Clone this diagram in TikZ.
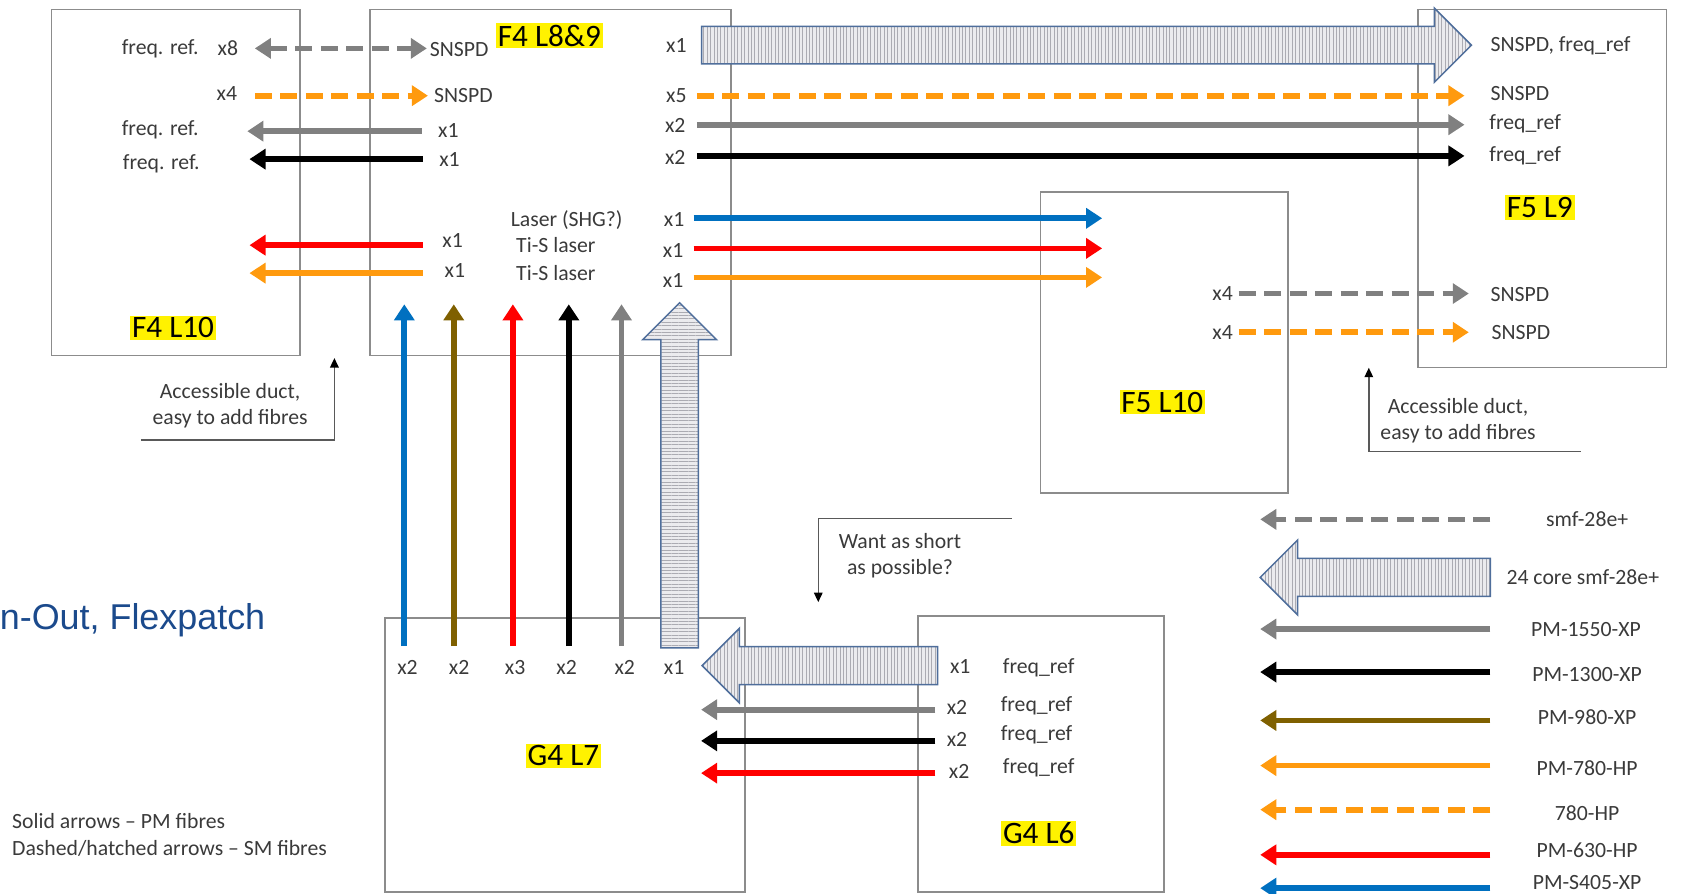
\documentclass[tikz,border=0pt]{standalone}
\usepackage{fontspec}
\setmainfont{Carlito}
\newfontfamily\arialfont{Liberation Sans}
\usepackage{tikz}
\usetikzlibrary{arrows.meta,shapes.arrows,patterns.meta}
\definecolor{boxgray}{HTML}{8C8C8C}
\definecolor{txt}{HTML}{3A3A3A}
\definecolor{fgray}{HTML}{808080}
\definecolor{fred}{HTML}{FF0000}
\definecolor{fblue}{HTML}{0070C0}
\definecolor{fbrown}{HTML}{7F6000}
\definecolor{forange}{HTML}{FF9A0E}
\definecolor{edgeblue}{HTML}{4F6E9B}
\definecolor{hatchbg}{HTML}{EBEBEE}
\definecolor{hatchln}{HTML}{ABABB2}
\definecolor{titleblue}{HTML}{1B4A8C}

\begin{document}
\begin{tikzpicture}[x=0.02cm, y=-0.02cm, every node/.style={font=\fontsize{11.5}{13.6}\selectfont, text=txt}]
\tikzstyle{room}=[draw=boxgray,line width=0.9pt,anchor=north west,inner sep=0]
\tikzstyle{tag}=[fill=yellow,text=black,inner sep=1pt,font=\fontsize{16.5}{18}\selectfont]
\tikzstyle{pm}=[line width=3pt,-{Triangle[length=8.5pt,width=10.5pt]}]
\tikzstyle{smf}=[pm,dash pattern=on 9pt off 4.5pt]
\tikzstyle{twoway}=[{Triangle[length=8.5pt,width=10.5pt]}-{Triangle[length=8.5pt,width=10.5pt]}]
\tikzstyle{core}=[single arrow,anchor=tip,draw=edgeblue,line width=0.8pt,inner sep=0.34cm,minimum width=1.36cm,single arrow head extend=0.34cm,preaction={fill=hatchbg},pattern={Lines[angle=90,distance=1.8pt,line width=0.45pt]},pattern color=hatchln]
\tikzstyle{note}=[draw=black!65,line width=0.8pt,-{Triangle[length=5pt,width=4.5pt,fill=black,color=black]}]
\useasboundingbox (0,0) rectangle (1568,831);

% rooms
\node[room,minimum width=4.62cm,minimum height=6.44cm] (f4l10) at (47,8) {};
\node[room,minimum width=6.72cm,minimum height=6.44cm] (f4l89) at (343,8) {};
\node[room,minimum width=4.62cm,minimum height=6.66cm] (f5l9) at (1318,8) {};
\node[room,minimum width=4.60cm,minimum height=5.60cm] (f5l10) at (967,178) {};
\node[room,minimum width=6.70cm,minimum height=5.10cm] (g4l7) at (357,574) {};
\node[room,minimum width=4.58cm,minimum height=5.14cm] (g4l6) at (853,572) {};
\node[tag] (f4l10tag) at (161,305) {F4 L10};
\node[tag] (f4l89tag) at (511,33) {F4 L8\&9};
\node[tag] (f5l9tag) at (1432,193) {F5 L9};
\node[tag] (f5l10tag) at (1081,374) {F5 L10};
\node[tag] (g4l7tag) at (524,703) {G4 L7};
\node[tag] (g4l6tag) at (966,775) {G4 L6};

% F4 L8&9 <-> F4 L10
\node (q1ref) at (149,45) {freq. ref.};
\node (q1) at (212,45) {x8};
\node (q1dst) at (427,46) {SNSPD};
\node (q2) at (211,87) {x4};
\node (q2dst) at (431,89) {SNSPD};
\node (q3ref) at (149,121) {freq. ref.};
\node (q3) at (417,121) {x1};
\node (q4ref) at (150,152) {freq. ref.};
\node (q4) at (418,148) {x1};
\node (q5) at (421,224) {x1};
\node (q6) at (423,252) {x1};
\node (laser) at (527,205) {Laser (SHG?)};
\node (tis1) at (517,228) {Ti-S laser};
\node (tis2) at (517,254) {Ti-S laser};
\coordinate (a1) at (237,45); \coordinate (b1) at (397,45);
\coordinate (a2) at (237,89); \coordinate (b2) at (398,89);
\coordinate (a3) at (392,122); \coordinate (b3) at (230,122);
\coordinate (a4) at (393,148); \coordinate (b4) at (232,148);
\coordinate (a5) at (393,228); \coordinate (b5) at (232,228);
\coordinate (a6) at (393,254); \coordinate (b6) at (232,254);
\draw[smf,twoway,fgray] (a1)--(b1);
\draw[smf,forange] (a2)--(b2);
\draw[pm,fgray] (a3)--(b3);
\draw[pm,black] (a4)--(b4);
\draw[pm,fred] (a5)--(b5);
\draw[pm,forange] (a6)--(b6);

% F4 L8&9 -> F5 L9 / F5 L10
\node (p1) at (629,42) {x1};
\node (p2) at (629,89) {x5};
\node (p3) at (628,117) {x2};
\node (p4) at (628,146) {x2};
\node (p5) at (627,204) {x1};
\node (p6) at (626,233) {x1};
\node (p7) at (626,261) {x1};
\node[anchor=west] (p1dst) at (1380,43) {SNSPD, freq\_ref};
\node[anchor=west] (p2dst) at (1380,87) {SNSPD};
\node[anchor=west] (p3dst) at (1379,115) {freq\_ref};
\node[anchor=west] (p4dst) at (1379,145) {freq\_ref};
\node[core,minimum height=14.32cm] (bundle1) at (1369,42) {};
\coordinate (c2) at (648,89); \coordinate (d2) at (1362,89);
\coordinate (c3) at (648,116); \coordinate (d3) at (1362,116);
\coordinate (c4) at (648,145); \coordinate (d4) at (1362,145);
\coordinate (c5) at (645,203); \coordinate (d5) at (1025,203);
\coordinate (c6) at (645,231); \coordinate (d6) at (1025,231);
\coordinate (c7) at (645,258); \coordinate (d7) at (1025,258);
\draw[smf,forange] (c2)--(d2);
\draw[pm,fgray] (c3)--(d3);
\draw[pm,black] (c4)--(d4);
\draw[pm,fblue] (c5)--(d5);
\draw[pm,fred] (c6)--(d6);
\draw[pm,forange] (c7)--(d7);

% F5 L10 -> F5 L9
\node (r1) at (1137,273) {x4};
\node (r2) at (1137,309) {x4};
\node[anchor=west] (r1dst) at (1380,274) {SNSPD};
\node[anchor=west] (r2dst) at (1381,309) {SNSPD};
\coordinate (e1) at (1152,273); \coordinate (f1) at (1366,273);
\coordinate (e2) at (1152,309); \coordinate (f2) at (1366,309);
\draw[smf,fgray] (e1)--(f1);
\draw[smf,forange] (e2)--(f2);

% G4 L7 -> F4 L8&9
\node (s1) at (379,621) {x2};
\node (s2) at (427,621) {x2};
\node (s3) at (479,621) {x3};
\node (s4) at (527,621) {x2};
\node (s5) at (581,621) {x2};
\node (s6) at (627,621) {x1};
\coordinate (v1) at (376,601); \coordinate (w1) at (376,283);
\coordinate (v2) at (422,601); \coordinate (w2) at (422,283);
\coordinate (v3) at (477,601); \coordinate (w3) at (477,283);
\coordinate (v4) at (529,601); \coordinate (w4) at (529,283);
\coordinate (v5) at (578,601); \coordinate (w5) at (578,283);
\draw[pm,fblue] (v1)--(w1);
\draw[pm,fbrown] (v2)--(w2);
\draw[pm,fred] (v3)--(w3);
\draw[pm,black] (v4)--(w4);
\draw[pm,fgray] (v5)--(w5);
\node[core,shape border rotate=90,minimum height=6.42cm,pattern={Lines[angle=0,distance=1.8pt,line width=0.45pt]}] (bundle2) at (632,281) {};

% G4 L6 -> G4 L7
\node (t1) at (893,620) {x1};
\node (t2) at (890,658) {x2};
\node (t3) at (890,688) {x2};
\node (t4) at (892,717) {x2};
\node (t1src) at (966,621) {freq\_ref};
\node (t2src) at (964,656) {freq\_ref};
\node (t3src) at (964,683) {freq\_ref};
\node (t4src) at (966,714) {freq\_ref};
\node[core,shape border rotate=180,minimum height=4.38cm] (bundle3) at (652,619) {};
\coordinate (g2) at (870,660); \coordinate (h2) at (652,660);
\coordinate (g3) at (870,689); \coordinate (h3) at (652,689);
\coordinate (g4) at (870,719); \coordinate (h4) at (652,719);
\draw[pm,fgray] (g2)--(h2);
\draw[pm,black] (g3)--(h3);
\draw[pm,fred] (g4)--(h4);

% remarks
\node[align=center] (duct1) at (214,377) {Accessible duct,\\easy to add fibres};
\node[align=center] (duct2) at (1356,391) {Accessible duct,\\easy to add fibres};
\node[align=center,font=\fontsize{11.5}{14}\selectfont] (short) at (837,517) {Want as short\\as possible?};
\coordinate (u1) at (131,409); \coordinate (u1tip) at (311,333);
\coordinate (u2) at (1470,420); \coordinate (u2tip) at (1273,342);
\coordinate (u3) at (941,482); \coordinate (u3tip) at (761,560);
\draw[note] (u1) -| (u1tip);
\draw[note] (u2) -| (u2tip);
\draw[note] (u3) -| (u3tip);
\node[anchor=east,inner sep=0,text=titleblue,font=\arialfont\fontsize{19}{22}\selectfont] (title) at (247,577) {n-Out, Flexpatch};
\node[anchor=west,inner sep=0] (pmnote) at (11,764) {Solid arrows – PM fibres};
\node[anchor=west,inner sep=0] (smnote) at (11,789) {Dashed/hatched arrows – SM fibres};

% key
\coordinate (k1) at (1386,483); \coordinate (m1) at (1172,483);
\coordinate (k3) at (1386,585); \coordinate (m3) at (1172,585);
\coordinate (k4) at (1386,625); \coordinate (m4) at (1172,625);
\coordinate (k5) at (1386,670); \coordinate (m5) at (1172,670);
\coordinate (k6) at (1386,712); \coordinate (m6) at (1172,712);
\coordinate (k7) at (1386,753); \coordinate (m7) at (1172,753);
\coordinate (k8) at (1386,795); \coordinate (m8) at (1172,795);
\coordinate (k9) at (1386,826); \coordinate (m9) at (1172,826);
\draw[smf,fgray] (k1)--(m1);
\node[core,shape border rotate=180,minimum height=4.28cm] (bundlekey) at (1171,537) {};
\draw[pm,fgray] (k3)--(m3);
\draw[pm,black] (k4)--(m4);
\draw[pm,fbrown] (k5)--(m5);
\draw[pm,forange] (k6)--(m6);
\draw[smf,forange] (k7)--(m7);
\draw[pm,fred] (k8)--(m8);
\draw[pm,fblue] (k9)--(m9);
\node (key1) at (1476,483) {smf-28e+};
\node (key2) at (1472,537) {24 core smf-28e+};
\node (key3) at (1475,585) {PM-1550-XP};
\node (key4) at (1476,627) {PM-1300-XP};
\node (key5) at (1476,667) {PM-980-XP};
\node (key6) at (1476,714) {PM-780-HP};
\node (key7) at (1476,756) {780-HP};
\node (key8) at (1476,791) {PM-630-HP};
\node (key9) at (1476,821) {PM-S405-XP};
\end{tikzpicture}
\end{document}
